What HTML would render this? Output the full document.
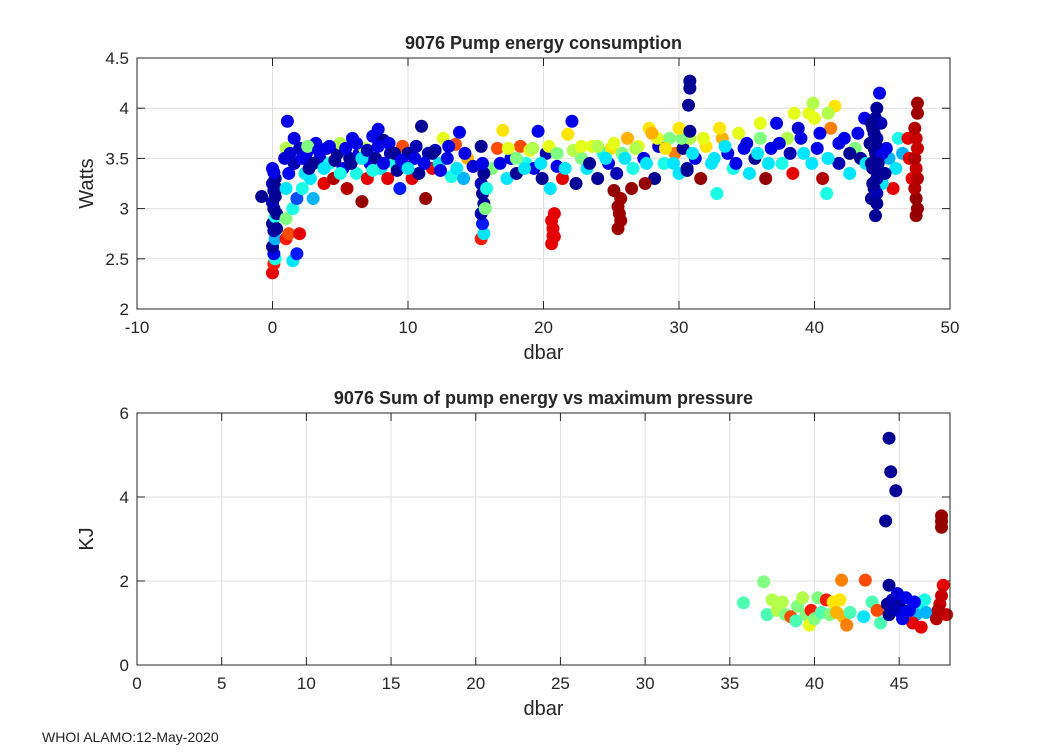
<!DOCTYPE html>
<html><head><meta charset="utf-8"><style>
html,body{margin:0;padding:0;background:#fff;}
svg text{font-family:"Liberation Sans",sans-serif;fill:#262626;}
</style></head><body>
<svg id="chart" width="1050" height="750" viewBox="0 0 1050 750" xmlns="http://www.w3.org/2000/svg"></svg>
<script>
// ---- Top panel data (dbar, Watts, colour index 0..1) ----
const topX = [-0.8,0.0,0.1,0.2,0.1,0.0,0.2,0.1,0.0,0.2,0.1,0.0,0.2,0.1,0.0,0.2,0.1,0.0,0.3,0.3,0.3,
1.0,1.5,1.8,1.2,2.0,1.0,1.5,1.8,1.0,2.2,1.2,1.6,2.4,1.0,1.3,1.1,1.6,2.0,2.5,0.9,2.8,3.0,2.7,3.2,
3.5,3.8,4.0,4.2,4.5,4.8,5.0,5.2,5.5,5.7,5.9,6.2,6.4,6.6,6.8,7.0,7.2,7.4,7.6,7.8,8.0,8.2,8.5,8.7,9.0,9.2,9.4,9.6,9.8,10.0,10.3,10.5,10.8,11.0,11.3,11.5,11.8,12.0,12.3,12.6,12.9,13.2,13.5,13.8,14.1,14.4,14.8,
16.2,16.6,17.0,17.3,17.6,18.0,18.3,18.7,19.0,19.3,19.6,19.9,20.2,20.5,21.0,21.4,21.8,22.1,22.4,22.8,23.2,23.6,24.0,24.4,24.8,25.0,25.4,25.8,26.2,26.6,27.0,27.4,27.8,28.2,28.5,28.9,29.3,29.7,30.0,30.3,30.6,30.8,31.2,31.6,32.0,32.4,32.8,33.2,33.6,34.0,34.4,34.8,35.2,35.6,36.0,36.4,36.8,37.2,37.6,38.0,38.4,38.8,39.2,39.6,39.9,40.2,40.6,40.9,41.2,41.5,41.8,42.2,42.6,43.0,43.4,43.7,
2.2,2.6,3.0,3.4,3.8,4.2,4.6,5.0,5.4,5.8,6.2,6.6,7.0,7.4,7.8,8.2,8.6,9.0,9.5,10.0,10.6,11.2,11.8,12.4,13.0,13.6,14.2,
16.8,17.4,18.0,18.6,19.2,19.8,20.4,21.0,21.6,22.2,22.8,23.4,24.0,24.6,25.2,26.0,26.8,27.6,28.4,29.0,29.6,30.2,31.0,31.8,32.6,33.4,34.2,35.0,35.8,36.6,37.4,38.2,39.0,39.8,40.4,41.0,41.8,42.6,43.2,43.8,40.0,41.0,38.5,36.0,33.0,30.0,28.0,
15.4,15.6,15.5,15.4,15.6,15.5,15.4,15.6,15.5,15.4,15.7,15.8,
20.6,20.8,20.7,20.6,20.8,20.7,
25.5,25.7,25.6,25.5,25.7,25.2,26.5,27.5,
30.8,30.8,30.7,30.8,30.6,
45.5,46.0,46.2,45.8,46.5,45.0,45.3,45.2,
44.2,44.5,44.4,44.6,44.3,44.7,44.4,44.6,44.3,44.5,44.6,44.8,44.9,44.1,44.2,44.5,44.8,44.4,44.6,45.0,44.3,44.7,44.5,44.2,44.6,
47.0,47.2,46.9,47.5,47.6,47.5,47.4,47.6,47.5,47.4,47.6,47.5,47.4,47.6,47.6];
const topY = [3.12,2.36,2.45,2.5,2.55,2.62,2.7,2.78,2.85,2.92,3.0,3.06,3.12,3.18,3.25,3.3,3.36,3.4,3.2,2.95,2.8,
2.7,2.48,2.55,2.75,2.75,2.9,3.0,3.1,3.2,3.2,3.35,3.45,3.35,3.6,3.55,3.87,3.7,3.6,3.55,3.5,3.3,3.1,3.4,3.65,
3.5,3.25,3.6,3.45,3.3,3.55,3.65,3.4,3.2,3.5,3.7,3.35,3.55,3.07,3.6,3.3,3.45,3.72,3.5,3.79,3.4,3.68,3.3,3.55,3.45,3.38,3.2,3.62,3.42,3.55,3.3,3.5,3.35,3.82,3.1,3.55,3.4,3.58,3.45,3.7,3.5,3.32,3.64,3.76,3.3,3.5,3.42,
3.4,3.6,3.78,3.3,3.5,3.35,3.62,3.45,3.58,3.4,3.77,3.3,3.55,3.2,3.42,3.3,3.74,3.87,3.25,3.5,3.4,3.62,3.3,3.55,3.45,3.6,3.35,3.55,3.7,3.4,3.62,3.5,3.8,3.3,3.62,3.45,3.7,3.55,3.35,3.6,3.4,3.7,3.5,3.3,3.62,3.45,3.15,3.7,3.55,3.4,3.75,3.6,3.35,3.5,3.7,3.3,3.6,3.85,3.45,3.7,3.35,3.8,3.55,3.95,4.05,3.6,3.3,3.15,3.8,4.02,3.45,3.7,3.35,3.6,3.5,3.9,
3.5,3.62,3.45,3.58,3.4,3.62,3.48,3.35,3.6,3.45,3.65,3.5,3.58,3.38,3.62,3.45,3.65,3.55,3.48,3.4,3.62,3.45,3.55,3.38,3.62,3.4,3.55,
3.45,3.6,3.5,3.4,3.6,3.45,3.62,3.55,3.4,3.58,3.62,3.45,3.62,3.5,3.65,3.5,3.6,3.45,3.7,3.6,3.45,3.7,3.55,3.7,3.5,3.62,3.45,3.65,3.55,3.45,3.65,3.55,3.7,3.45,3.75,3.5,3.65,3.55,3.75,3.45,3.9,3.95,3.95,3.85,3.8,3.8,3.75,
2.7,2.75,2.85,2.95,3.05,3.15,3.25,3.35,3.45,3.62,3.0,3.2,
2.65,2.72,2.8,2.88,2.95,2.73,
2.8,2.88,2.95,3.02,3.1,3.18,3.2,3.25,
4.27,4.2,4.03,3.77,3.38,
3.5,3.4,3.7,3.2,3.55,3.25,3.6,3.35,
3.1,2.93,3.2,3.3,3.4,3.5,3.6,3.7,3.8,3.9,4.0,4.15,3.85,3.65,3.45,3.55,3.35,3.75,3.15,3.55,3.25,3.45,3.65,3.85,3.05,
3.5,3.3,3.7,2.93,3.0,3.1,3.2,3.3,3.4,3.5,3.6,3.7,3.8,3.95,4.05];
const topC = [0.02,0.9,0.85,0.4,0.1,0.02,0.3,0.05,0.02,0.4,0.02,0.05,0.02,0.02,0.05,0.02,0.1,0.1,0.02,0.02,0.02,
0.85,0.35,0.15,0.8,0.9,0.5,0.4,0.2,0.35,0.4,0.12,0.05,0.35,0.55,0.08,0.1,0.1,0.06,0.1,0.08,0.35,0.3,0.02,0.1,
0.08,0.9,0.1,0.4,0.95,0.02,0.55,0.1,0.95,0.02,0.1,0.4,0.1,0.98,0.55,0.9,0.1,0.1,0.02,0.1,0.35,0.02,0.9,0.05,0.4,0.02,0.15,0.8,0.1,0.02,0.9,0.1,0.02,0.02,0.98,0.05,0.9,0.05,0.35,0.6,0.1,0.4,0.8,0.1,0.3,0.7,0.08,
0.5,0.8,0.65,0.35,0.1,0.02,0.8,0.4,0.6,0.1,0.1,0.02,0.05,0.35,0.1,0.9,0.65,0.1,0.02,0.5,0.35,0.6,0.02,0.4,0.1,0.65,0.05,0.5,0.7,0.4,0.6,0.1,0.65,0.02,0.08,0.4,0.5,0.75,0.35,0.02,0.05,0.55,0.1,0.98,0.65,0.35,0.4,0.7,0.1,0.4,0.6,0.1,0.35,0.02,0.5,0.98,0.1,0.1,0.4,0.55,0.9,0.08,0.35,0.6,0.55,0.1,0.95,0.4,0.75,0.65,0.05,0.1,0.35,0.5,0.02,0.1,
0.1,0.5,0.02,0.1,0.35,0.1,0.02,0.4,0.1,0.02,0.1,0.35,0.05,0.4,0.1,0.1,0.1,0.02,0.1,0.35,0.05,0.1,0.02,0.1,0.1,0.35,0.1,
0.1,0.6,0.5,0.35,0.55,0.35,0.6,0.5,0.35,0.55,0.6,0.02,0.55,0.35,0.6,0.35,0.55,0.35,0.6,0.65,0.35,0.5,0.35,0.6,0.35,0.35,0.1,0.1,0.35,0.35,0.1,0.05,0.1,0.35,0.1,0.35,0.1,0.02,0.1,0.35,0.6,0.55,0.6,0.6,0.65,0.65,0.7,
0.85,0.35,0.15,0.05,0.02,0.02,0.05,0.02,0.1,0.02,0.5,0.4,
0.9,0.9,0.9,0.9,0.9,0.9,
0.97,0.97,0.97,0.97,0.97,0.98,0.98,0.98,
0.02,0.02,0.02,0.02,0.02,
0.3,0.35,0.4,0.9,0.3,0.35,0.1,0.02,
0.02,0.02,0.02,0.05,0.02,0.1,0.02,0.05,0.02,0.02,0.02,0.1,0.05,0.02,0.02,0.02,0.02,0.02,0.05,0.1,0.02,0.02,0.02,0.02,0.02,
0.9,0.9,0.9,0.98,0.98,0.98,0.95,0.95,0.93,0.95,0.93,0.93,0.95,0.97,0.97];
// ---- Bottom panel data (max dbar, KJ, colour index) ----
const botX = [35.8,37.0,37.2,37.5,37.8,38.1,38.3,38.6,38.9,39.0,39.3,39.5,39.7,39.8,40.0,40.2,40.4,40.7,40.9,41.1,41.3,41.5,41.6,41.7,41.9,42.1,42.9,43.0,43.4,43.7,43.9,
45.5,46.2,46.0,46.5,46.6,45.8,46.3,47.2,47.4,47.6,47.5,47.8,47.3,
44.2,44.4,44.5,44.8,44.4,44.3,44.6,44.4,44.9,45.0,45.2,45.4,45.6,45.9,45.1,44.7,
47.5,47.5,47.5];
const botY = [1.48,1.98,1.2,1.55,1.3,1.5,1.2,1.15,1.05,1.4,1.6,1.2,0.95,1.3,1.1,1.6,1.25,1.55,1.2,1.5,1.25,1.55,2.02,1.15,0.95,1.25,1.15,2.02,1.5,1.3,1.0,
1.15,1.4,1.2,1.55,1.25,1.0,0.9,1.1,1.45,1.9,1.65,1.2,1.3,
3.43,5.4,4.6,4.15,1.9,1.45,1.55,1.2,1.7,1.4,1.1,1.6,1.3,1.5,1.25,1.35,
3.55,3.42,3.28];
const botC = [0.45,0.5,0.45,0.55,0.55,0.55,0.5,0.8,0.45,0.5,0.55,0.5,0.6,0.85,0.5,0.5,0.45,0.85,0.5,0.65,0.7,0.65,0.75,0.7,0.75,0.45,0.35,0.8,0.45,0.8,0.45,
0.3,0.4,0.3,0.4,0.3,0.9,0.9,0.95,0.93,0.9,0.93,0.93,0.95,
0.02,0.02,0.02,0.02,0.02,0.02,0.05,0.02,0.08,0.02,0.1,0.1,0.1,0.12,0.1,0.05,
0.98,0.98,0.98];
const topXTicks = [-10,0,10,20,30,40,50];
const topYTicks = [2,2.5,3,3.5,4,4.5];
const botXTicks = [0,5,10,15,20,25,30,35,40,45];
const botYTicks = [0,2,4,6];

const NS = 'http://www.w3.org/2000/svg';
const svg = document.getElementById('chart');
function mk(tag, attrs, parent){const e=document.createElementNS(NS,tag);for(const k in attrs)e.setAttribute(k,attrs[k]);(parent||svg).appendChild(e);return e;}
function jet(c){const cl=v=>Math.max(0,Math.min(1,v));const r=cl(1.5-Math.abs(4*c-3)),g=cl(1.5-Math.abs(4*c-2)),b=cl(1.5-Math.abs(4*c-1));return 'rgb('+Math.round(r*255)+','+Math.round(g*255)+','+Math.round(b*255)+')';}

function panel(cfg){
  const {L,R,T,B,xmin,xmax,ymin,ymax,xt,yt,xs,ys,cs,title,ylab,name}=cfg;
  const sx=v=>L+(v-xmin)/(xmax-xmin)*(R-L);
  const sy=v=>B-(v-ymin)/(ymax-ymin)*(B-T);
  const g=mk('g',{});
  
  
  xt.forEach(v=>{const x=sx(v);
    const gl=mk('line',{x1:x,x2:x,y1:T,y2:B,stroke:'#dfdfdf','stroke-width':1},g);
    
    mk('line',{x1:x,x2:x,y1:B,y2:B-8,stroke:'#262626'},g);mk('line',{x1:x,x2:x,y1:T,y2:T+8,stroke:'#262626'},g);
    const t=mk('text',{x:x,y:B+24,'font-size':17,'text-anchor':'middle'},g);t.textContent=v;
    });
  yt.forEach(v=>{const y=sy(v);
    const gl=mk('line',{x1:L,x2:R,y1:y,y2:y,stroke:'#dfdfdf','stroke-width':1},g);
    
    mk('line',{x1:L,x2:L+8,y1:y,y2:y,stroke:'#262626'},g);mk('line',{x1:R,x2:R-8,y1:y,y2:y,stroke:'#262626'},g);
    const t=mk('text',{x:L-8,y:y+6,'font-size':17,'text-anchor':'end'},g);t.textContent=v;
    });
  for(let i=0;i<xs.length;i++){
    const c=mk('circle',{cx:sx(xs[i]),cy:sy(ys[i]),r:6.5,fill:jet(cs[i])},g);
    
    
  }
  const box=mk('rect',{x:L,y:T,width:R-L,height:B-T,fill:'none',stroke:'#262626','stroke-width':1},g);
  
  const tt=mk('text',{x:(L+R)/2,y:T-9,'font-size':18,'font-weight':'bold','text-anchor':'middle',fill:'#000'},g);tt.textContent=title;
  
  const xl=mk('text',{x:(L+R)/2,y:B+50,'font-size':20,'text-anchor':'middle'},g);xl.textContent='dbar';
  
  const yl=mk('text',{x:0,y:0,'font-size':20,'text-anchor':'middle',transform:'translate(93,'+((T+B)/2)+') rotate(-90)'},g);yl.textContent=ylab;
  
}
panel({L:137,R:950,T:58,B:309,xmin:-10,xmax:50,ymin:2,ymax:4.5,xt:topXTicks,yt:topYTicks,xs:topX,ys:topY,cs:topC,title:'9076 Pump energy consumption',ylab:'Watts',name:'pump-energy-panel'});
panel({L:137,R:950,T:413,B:665,xmin:0,xmax:48,ymin:0,ymax:6,xt:botXTicks,yt:botYTicks,xs:botX,ys:botY,cs:botC,title:'9076 Sum of pump energy vs maximum pressure',ylab:'KJ',name:'energy-sum-panel'});
const foot=mk('text',{x:42,y:742,'font-size':14,fill:'#000'});
foot.textContent='WHOI ALAMO:12-May-2020';


</script>
</body></html>
